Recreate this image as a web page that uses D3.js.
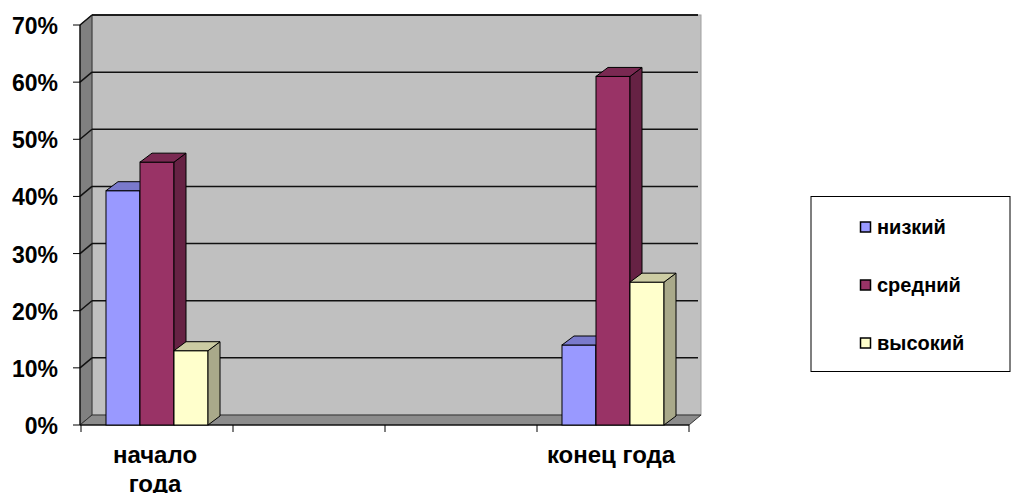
<!DOCTYPE html>
<html>
<head>
<meta charset="utf-8">
<script src="https://cdn.jsdelivr.net/npm/d3@7"></script>
<style>
  body { margin: 0; background: #fff; }
  svg text { font-family: Arial, "Liberation Sans", sans-serif; font-weight: bold; fill: #000; }
</style>
</head>
<body>
<div id="chart"></div>
<script>
// data
const categoryLabels = [["начало", "года"], [], [], ["конец года"]];
const seriesNames = ["низкий", "средний", "высокий"];
const lowValues = [41, null, null, 14];
const midValues = [46, null, null, 61];
const highValues = [13, null, null, 25];
const yTicks = [0, 10, 20, 30, 40, 50, 60, 70];

const seriesValues = [lowValues, midValues, highValues];
const colors = [
  { front: "#9999ff", side: "#6b6bb3", top: "#7a7acc" },
  { front: "#993366", side: "#662244", top: "#7a2952" },
  { front: "#ffffcc", side: "#a9a98a", top: "#cccca3" }
];

const width = 1011, height = 493;
const svg = d3.select("#chart").append("svg")
  .attr("width", width).attr("height", height);

const plotLeft = 80, plotRight = 689, plotTop = 25, plotBottom = 425;
const wdx = 12, wdy = -10;   // wall depth
const bdx = 12, bdy = -9;    // bar depth

const y = d3.scaleLinear().domain([0, 70]).range([plotBottom, plotTop]);
const x0 = d3.scaleBand().domain(d3.range(categoryLabels.length)).range([plotLeft + 1, plotRight]);
const x1 = d3.scaleBand().domain(d3.range(seriesNames.length))
  .range([0, x0.bandwidth()]).paddingOuter(0.735);

const poly = pts => pts.map(p => p.join(",")).join(" ");

// back wall
svg.append("rect")
  .attr("x", plotLeft + wdx).attr("y", plotTop + wdy)
  .attr("width", plotRight - plotLeft).attr("height", plotBottom - plotTop)
  .attr("fill", "#c0c0c0").attr("stroke", "#a0a0a0");
svg.append("line")
  .attr("x1", plotLeft + wdx).attr("x2", plotRight + wdx - 3)
  .attr("y1", plotTop + wdy).attr("y2", plotTop + wdy)
  .attr("stroke", "#222").attr("stroke-width", 1.5);

// left wall
svg.append("polygon")
  .attr("points", poly([[plotLeft, plotBottom], [plotLeft, plotTop], [plotLeft + wdx, plotTop + wdy], [plotLeft + wdx, plotBottom + wdy]]))
  .attr("fill", "#808080").attr("stroke", "#333");

// floor
svg.append("polygon")
  .attr("points", poly([[plotLeft, plotBottom], [plotRight, plotBottom], [plotRight + wdx, plotBottom + wdy], [plotLeft + wdx, plotBottom + wdy]]))
  .attr("fill", "#8c8c8c").attr("stroke", "#333");

// gridlines
const grid = yTicks.filter(t => t > 0);
svg.selectAll(".grid-back").data(grid).enter().append("line")
  .attr("x1", plotLeft + wdx).attr("x2", plotRight + wdx - 3)
  .attr("y1", d => y(d) + wdy).attr("y2", d => y(d) + wdy)
  .attr("stroke", "#111").attr("stroke-width", 1.5);
svg.selectAll(".grid-side").data(grid).enter().append("line")
  .attr("x1", plotLeft).attr("x2", plotLeft + wdx)
  .attr("y1", d => y(d)).attr("y2", d => y(d) + wdy)
  .attr("stroke", "#111").attr("stroke-width", 1.5);

// axes
svg.append("line").attr("x1", plotLeft).attr("x2", plotLeft).attr("y1", plotTop).attr("y2", plotBottom)
  .attr("stroke", "#000");
svg.append("line").attr("x1", plotLeft).attr("x2", plotRight).attr("y1", plotBottom).attr("y2", plotBottom)
  .attr("stroke", "#000");

svg.selectAll(".ytick").data(yTicks).enter().append("line")
  .attr("x1", plotLeft - 7).attr("x2", plotLeft)
  .attr("y1", d => y(d)).attr("y2", d => y(d))
  .attr("stroke", "#000");
svg.selectAll(".ylabel").data(yTicks).enter().append("text")
  .attr("x", 58).attr("y", d => y(d) + 9)
  .attr("text-anchor", "end").attr("font-size", 23)
  .text(d => d + "%");

const xTickPos = d3.range(categoryLabels.length + 1).map(i =>
  i < categoryLabels.length ? x0(i) : x0(i - 1) + x0.bandwidth());
svg.selectAll(".xtick").data(xTickPos).enter().append("line")
  .attr("x1", d => d).attr("x2", d => d)
  .attr("y1", plotBottom).attr("y2", plotBottom + 7)
  .attr("stroke", "#000");

categoryLabels.forEach((lines, i) => {
  lines.forEach((ln, j) => {
    svg.append("text")
      .attr("x", x0(i) + x0.bandwidth() / 2 - 2)
      .attr("y", 463 + j * 29)
      .attr("text-anchor", "middle").attr("font-size", 24)
      .text(ln);
  });
});

// bars
categoryLabels.forEach((c, i) => {
  seriesValues.forEach((vals, s) => {
    const v = vals[i];
    if (v == null) return;
    const xa = x0(i) + x1(s), w = x1.bandwidth();
    const yv = y(v), y0 = y(0);
    const g = svg.append("g").attr("stroke", "#000").attr("stroke-width", 1);
    g.append("rect").attr("x", xa).attr("y", yv).attr("width", w).attr("height", y0 - yv)
      .attr("fill", colors[s].front);
    g.append("polygon")
      .attr("points", poly([[xa + w, yv], [xa + w + bdx, yv + bdy], [xa + w + bdx, y0 + bdy], [xa + w, y0]]))
      .attr("fill", colors[s].side);
    g.append("polygon")
      .attr("points", poly([[xa, yv], [xa + bdx, yv + bdy], [xa + w + bdx, yv + bdy], [xa + w, yv]]))
      .attr("fill", colors[s].top);
  });
});

// legend
const legend = svg.append("g");
legend.append("rect").attr("x", 811).attr("y", 196.5).attr("width", 199).attr("height", 175)
  .attr("fill", "#fff").attr("stroke", "#000");
const legendY = d3.scalePoint().domain(d3.range(seriesNames.length)).range([227, 343]);
seriesNames.forEach((name, s) => {
  legend.append("rect").attr("x", 860.5).attr("y", legendY(s) - 5)
    .attr("width", 10).attr("height", 10)
    .attr("fill", colors[s].front).attr("stroke", "#000").attr("stroke-width", 1.5);
  legend.append("text").attr("x", 877).attr("y", legendY(s) + 7)
    .attr("font-size", 20).text(name);
});
</script>
</body>
</html>
